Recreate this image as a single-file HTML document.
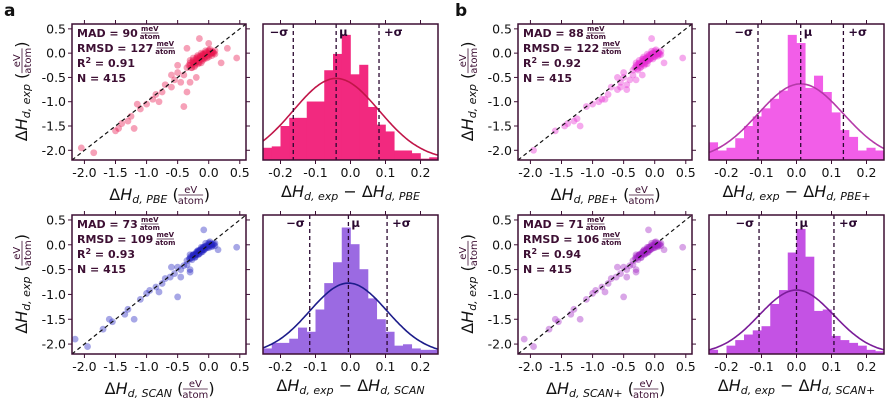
<!DOCTYPE html>
<html><head><meta charset="utf-8"><style>
body{margin:0;background:#fff;}
svg{display:block;font-family:"DejaVu Sans","Liberation Sans",sans-serif;}
</style></head><body>
<svg id="fig" width="896" height="400" viewBox="0 0 896 400" xmlns="http://www.w3.org/2000/svg">
<text x="4" y="16" font-size="17" font-weight="bold" fill="#111">a</text>
<text x="455" y="16" font-size="17" font-weight="bold" fill="#111">b</text>
</svg>
<script>
// ---------- data ----------
const scatterTicks = [-2.0, -1.5, -1.0, -0.5, 0.0, 0.5];
const histTicks = [-0.2, -0.1, 0.0, 0.1, 0.2];
const binStarts = [-0.25,-0.225,-0.2,-0.175,-0.15,-0.125,-0.1,-0.075,-0.05,-0.025,0,0.025,0.05,0.075,0.1,0.125,0.15,0.175,0.2,0.225];

const pbeX = [0,-0.05,-0.1,-0.15,-0.2,-0.25,-0.3,0.05,0.1,-0.1,-0.2,-0.05,0,-0.15,-0.25,0.05,-0.3,-0.35,-0.12,-0.08,0.02,-0.18,0.1,-0.22,-0.02,-0.07,-0.13,-0.17,-0.27,0.07,-0.4,-0.5,-0.45,-0.55,-0.6,-0.7,-0.75,-0.85,-0.9,-1.0,-1.1,-1.25,-1.3,-1.45,-1.5,-1.4,-1.15,-0.3,-0.2,-0.4,-0.35,-0.15,0.3,0.45,0.2,-2.05,-1.85,-1.2,-0.8,-0.6,0,-0.35,-0.5,
 -0.32,-0.28,-0.26,-0.24,-0.21,-0.19,-0.16,-0.14,-0.11,-0.09,-0.06,-0.04,-0.01,0.01,0.03,0.06,0.08,-0.3,-0.23,-0.18,-0.12,-0.06,0.0,0.04,-0.2,-0.15,-0.1,-0.03,-0.25,-0.08];
const pbeY = [0,-0.02,-0.05,-0.1,-0.15,-0.2,-0.25,0,0.05,-0.15,-0.1,0.05,-0.08,-0.2,-0.1,-0.05,-0.15,-0.3,0,-0.1,0.08,-0.05,-0.02,-0.25,-0.04,-0.12,-0.08,-0.22,-0.3,0.02,-0.45,-0.4,-0.6,-0.55,-0.7,-0.65,-0.8,-0.85,-0.95,-1.05,-1.15,-1.3,-1.4,-1.55,-1.6,-1.45,-1.05,-0.6,-0.5,-1.1,-0.8,0.3,0.1,-0.1,-0.2,-1.95,-2.05,-1.55,-1.0,-0.45,0.2,0.1,-0.25,
 -0.25,-0.3,-0.18,-0.22,-0.2,-0.12,-0.18,-0.06,-0.12,-0.02,-0.08,0.02,-0.05,0.04,-0.02,0.03,0.0,-0.2,-0.28,-0.08,-0.2,0.0,0.06,0.0,-0.18,-0.14,-0.02,-0.1,-0.15,-0.05];
const scanX = [0,-0.05,-0.1,-0.15,-0.2,-0.25,-0.3,0.05,0.1,-0.1,-0.2,-0.05,0,-0.15,-0.25,0.05,-0.3,-0.35,-0.12,-0.08,0.02,-0.18,0.1,-0.22,-0.02,-0.07,-0.13,-0.17,-0.27,0.07,-0.4,-0.5,-0.45,-0.55,-0.62,-0.7,-0.75,-0.85,-0.95,-1.0,-1.1,-1.3,-1.35,-1.6,-1.55,-1.7,-0.3,-0.5,-0.45,-0.3,-0.08,0.45,0.15,-2.15,-1.95,-1.2,-0.8,-0.6,-0.35,
 -0.31,-0.27,-0.25,-0.23,-0.2,-0.18,-0.16,-0.13,-0.11,-0.09,-0.06,-0.04,-0.01,0.01,0.03,0.05,0.08,-0.29,-0.22,-0.17,-0.12,-0.06,0.0,0.04,-0.2,-0.15,-0.1,-0.03,-0.24,-0.08];
const scanY = [0,-0.04,-0.1,-0.12,-0.18,-0.22,-0.28,-0.02,0.03,-0.14,-0.15,0.03,-0.06,-0.18,-0.2,-0.04,-0.2,-0.32,-0.05,-0.1,0.06,-0.12,-0.02,-0.25,-0.03,-0.1,-0.1,-0.2,-0.3,0.0,-0.42,-0.45,-0.5,-0.58,-0.65,-0.68,-0.78,-0.85,-0.92,-0.98,-1.1,-1.3,-1.4,-1.5,-1.55,-1.7,-0.5,-1.05,-0.65,-0.55,0.3,-0.05,-0.1,-1.9,-2.05,-1.5,-0.95,-0.45,-0.4,
 -0.28,-0.26,-0.2,-0.22,-0.18,-0.15,-0.18,-0.1,-0.12,-0.06,-0.08,-0.02,-0.04,0.02,-0.01,0.02,0.02,-0.24,-0.25,-0.12,-0.15,-0.03,0.04,0.01,-0.2,-0.12,-0.06,-0.06,-0.2,-0.05];
const pbepX = [0,-0.05,-0.1,-0.15,-0.2,-0.25,-0.3,0.05,0.1,-0.1,-0.2,-0.05,0,-0.15,-0.25,0.05,-0.3,-0.35,-0.12,-0.08,0.02,-0.18,0.1,-0.22,-0.02,-0.07,-0.13,-0.17,-0.27,0.07,-0.4,-0.5,-0.45,-0.55,-0.6,-0.7,-0.75,-0.85,-0.9,-1.0,-1.1,-1.25,-1.3,-1.45,-1.6,-1.4,-0.3,-0.2,-0.45,-0.55,-0.05,0.45,0.15,-1.95,-1.2,-0.8,-0.6,-0.35,-0.5,
 -0.32,-0.28,-0.26,-0.24,-0.21,-0.19,-0.16,-0.14,-0.11,-0.09,-0.06,-0.04,-0.01,0.01,0.03,0.06,0.08,-0.3,-0.23,-0.18,-0.12,-0.06,0.0,0.04,-0.2,-0.15,-0.1,-0.03,-0.25,-0.08];
const pbepY = [0,-0.02,-0.08,-0.12,-0.18,-0.22,-0.28,-0.02,0.04,-0.15,-0.12,0.04,-0.08,-0.22,-0.15,-0.06,-0.2,-0.35,-0.02,-0.12,0.07,-0.08,-0.03,-0.28,-0.05,-0.12,-0.1,-0.25,-0.35,0.0,-0.55,-0.5,-0.65,-0.6,-0.75,-0.7,-0.85,-0.95,-1.0,-1.05,-1.1,-1.35,-1.4,-1.5,-1.6,-1.45,-0.55,-0.45,-0.75,-0.7,0.3,-0.1,-0.2,-2.0,-1.5,-0.95,-0.5,-0.45,-0.4,
 -0.3,-0.32,-0.22,-0.26,-0.22,-0.16,-0.2,-0.1,-0.15,-0.05,-0.1,0.0,-0.07,0.02,-0.04,0.02,-0.02,-0.25,-0.3,-0.12,-0.22,-0.02,0.05,-0.02,-0.22,-0.17,-0.05,-0.12,-0.2,-0.08];
const scanpX = [0,-0.05,-0.1,-0.15,-0.2,-0.25,-0.3,0.05,0.1,-0.1,-0.2,-0.05,0,-0.15,-0.25,0.05,-0.3,-0.35,-0.12,-0.08,0.02,-0.18,0.1,-0.22,-0.02,-0.07,-0.13,-0.17,-0.27,0.07,-0.4,-0.5,-0.45,-0.55,-0.62,-0.7,-0.75,-0.85,-0.95,-1.0,-1.1,-1.3,-1.35,-1.6,-1.55,-1.7,-0.3,-0.5,-0.45,-0.3,-0.1,0.45,0.15,-2.1,-1.95,-1.2,-0.8,-0.6,-0.35,
 -0.31,-0.27,-0.25,-0.23,-0.2,-0.18,-0.16,-0.13,-0.11,-0.09,-0.06,-0.04,-0.01,0.01,0.03,0.05,0.08,-0.29,-0.22,-0.17,-0.12,-0.06,0.0,0.04,-0.2,-0.15,-0.1,-0.03,-0.24,-0.08];
const scanpY = [0,-0.04,-0.1,-0.12,-0.18,-0.22,-0.28,-0.02,0.03,-0.14,-0.15,0.03,-0.06,-0.18,-0.2,-0.04,-0.2,-0.32,-0.05,-0.1,0.06,-0.12,-0.02,-0.25,-0.03,-0.1,-0.1,-0.2,-0.3,0.0,-0.42,-0.45,-0.5,-0.58,-0.65,-0.68,-0.78,-0.85,-0.92,-0.98,-1.1,-1.3,-1.4,-1.5,-1.55,-1.7,-0.5,-1.05,-0.65,-0.55,0.3,-0.05,-0.1,-1.9,-2.05,-1.5,-0.95,-0.45,-0.4,
 -0.27,-0.25,-0.21,-0.2,-0.19,-0.14,-0.17,-0.09,-0.13,-0.05,-0.09,-0.01,-0.05,0.03,-0.02,0.03,0.01,-0.23,-0.26,-0.1,-0.16,-0.02,0.05,0.0,-0.19,-0.13,-0.05,-0.07,-0.19,-0.06];

const histPbe = [.09,.10,.25,.31,.31,.43,.43,.66,.78,.92,.63,.70,.39,.26,.21,.07,.07,.05,.01,.02];
const histScan = [.04,.08,.08,.11,.19,.16,.32,.51,.66,.91,.79,.61,.40,.25,.16,.06,.07,.04,.03,.03];
const histPbep = [.13,.07,.09,.16,.25,.32,.38,.45,.51,.92,.86,.53,.62,.50,.35,.22,.17,.07,.09,.07];
const histScanp = [.03,0,.06,.10,.14,.17,.20,.36,.46,.73,.90,.70,.31,.32,.13,.10,.08,.06,.03,.02];
// gaussian: [mu, sigma, peak]
const gaussPbe = [-0.041, 0.1225, 0.60];
const gaussScan = [-0.006, 0.1105, 0.51];
const gaussPbep = [0.012, 0.122, 0.56];
const gaussScanp = [0.0, 0.107, 0.46];
const statsPbe = ["90","127","0.91","415"];
const statsScan = ["73","109","0.93","415"];
const statsPbep = ["88","122","0.92","415"];
const statsScanp = ["71","106","0.94","415"];

// ---------- drawing ----------
const svg = document.getElementById('fig');
const NS = 'http://www.w3.org/2000/svg';
const AX = '#3d0f33';
function mk(tag, attrs, parent){
  const e = document.createElementNS(NS, tag);
  for (const k in attrs) e.setAttribute(k, attrs[k]);
  (parent||svg).appendChild(e);
  return e;
}
function frac(g, x, y, num, den, fs){
  const t1 = mk('text',{x:x,y:y-2,'font-size':fs,'text-anchor':'middle',fill:AX},g); t1.textContent=num;
  const t2 = mk('text',{x:x,y:y+fs-1,'font-size':fs,'text-anchor':'middle',fill:AX},g); t2.textContent=den;
  const w = den.length*fs*0.62;
  mk('line',{x1:x-w/2,x2:x+w/2,y1:y,y2:y,stroke:AX,'stroke-width':0.8},g);
  return w;
}
function fmt(v){ return (v<0?'-':'')+Math.abs(v).toFixed(1); }
function wid(t){ try { return t.getComputedTextLength(); } catch(e){ return 40; } }

function scatter(L, T, H, xs, ys, color, stats, sub, name){
  const W = 174, g = mk('g',{});
  
  
  const sx = v => L + (v + 2.2) / 2.8 * W;
  const sy = v => T + H - (v + 2.2) / 2.8 * H;
  const cp = mk('clipPath',{id:'c'+name},g); mk('rect',{x:L,y:T,width:W,height:H},cp);
  const pg = mk('g',{'clip-path':'url(#c'+name+')'},g);
  for (let i=0;i<xs.length;i++){
    const c = mk('circle',{cx:sx(xs[i]),cy:sy(ys[i]),r:3.4,fill:color,'fill-opacity':0.4},pg);
    
    
  }
  const d = mk('line',{x1:sx(-2.2),y1:sy(-2.2),x2:sx(0.6),y2:sy(0.6),stroke:'#111','stroke-width':1.2,'stroke-dasharray':'4,3'},g);
  
  
  mk('rect',{x:L,y:T,width:W,height:H,fill:'none',stroke:AX,'stroke-width':1.5},g);
  scatterTicks.forEach(v=>{
    mk('line',{x1:sx(v),x2:sx(v),y1:T+H,y2:T+H+4,stroke:AX,'stroke-width':1},g);
    mk('line',{x1:sx(v),x2:sx(v),y1:T,y2:T-4,stroke:AX,'stroke-width':1},g);
    mk('line',{x1:L,x2:L-4,y1:sy(v),y2:sy(v),stroke:AX,'stroke-width':1},g);
    mk('line',{x1:L+W,x2:L+W+4,y1:sy(v),y2:sy(v),stroke:AX,'stroke-width':1},g);
    const tx = mk('text',{x:sx(v),y:T+H+17,'font-size':12.5,'text-anchor':'middle',fill:'#111'},g);
    tx.textContent = fmt(v);
    
    
    const ty = mk('text',{x:L-6,y:sy(v)+4.5,'font-size':12.5,'text-anchor':'end',fill:'#111'},g);
    ty.textContent = fmt(v);
    
    
  });
  // stats
  const st = mk('g',{'font-size':11,'font-weight':'bold',fill:AX},g);
  
  
  let t = mk('text',{x:L+5,y:T+13},st); t.textContent='MAD = '+stats[0];
  frac(st, L+5+wid(t)+12, T+9, 'meV','atom',7);
  t = mk('text',{x:L+5,y:T+28},st); t.textContent='RMSD = '+stats[1];
  frac(st, L+5+wid(t)+12, T+24, 'meV','atom',7);
  t = mk('text',{x:L+5,y:T+43},st); t.innerHTML='R<tspan dy="-4" font-size="8">2</tspan><tspan dy="4"> = '+stats[2]+'</tspan>';
  t = mk('text',{x:L+5,y:T+58},st); t.textContent='N = '+stats[3];
  // x label
  const xl = mk('g',{},g);
  
  
  const cx = L + W/2, ly = T+H+40;
  const lt = mk('text',{x:0,y:ly,'font-size':16,fill:'#111'},xl);
  lt.innerHTML = 'Δ<tspan font-style="italic">H</tspan><tspan font-style="italic" font-size="11" dy="3">d, '+sub+'</tspan><tspan dy="-3"> (</tspan>';
  const w1 = wid(lt), total = w1 + 24 + 6;
  const x0 = cx - total/2;
  lt.setAttribute('x', x0);
  frac(xl, x0 + w1 + 12, ly-5, 'eV','atom',10);
  const rp = mk('text',{x:x0+w1+25,y:ly,'font-size':16,fill:'#111'},xl); rp.textContent=')';
  // y label
  const yl = mk('g',{transform:'translate('+(L-45)+','+(T+H/2)+') rotate(-90)'},g);
  
  
  const yt = mk('text',{x:0,y:0,'font-size':16,fill:'#111'},yl);
  yt.innerHTML = 'Δ<tspan font-style="italic">H</tspan><tspan font-style="italic" font-size="11" dy="3">d, exp</tspan><tspan dy="-3"> (</tspan>';
  const yw = wid(yt), yx0 = -(yw+30)/2;
  yt.setAttribute('x', yx0);
  frac(yl, yx0 + yw + 12, -5, 'eV','atom',10);
  const yr = mk('text',{x:yx0+yw+25,y:0,'font-size':16,fill:'#111'},yl); yr.textContent=')';
}

function hist(L, T, H, hs, gauss, fill, line, sub, name){
  const W = 175, g = mk('g',{});
  
  
  const sx = v => L + (v + 0.25) / 0.5 * W;
  const sy = v => T + H - v * H;
  for (let i=0;i<hs.length;i++){
    const r = mk('rect',{x:sx(binStarts[i]),y:sy(hs[i]),width:sx(binStarts[i]+0.025)-sx(binStarts[i])+0.3,height:hs[i]*H,fill:fill},g);
    
    
  }
  const [mu, sg, pk] = gauss;
  let d = '';
  for (let k=0;k<=100;k++){
    const v = -0.25 + k*0.005;
    const y = pk*Math.exp(-0.5*((v-mu)/sg)**2);
    d += (k?'L':'M') + sx(v).toFixed(1) + ',' + sy(y).toFixed(1);
  }
  const p = mk('path',{d:d,fill:'none',stroke:line,'stroke-width':1.6},g);
  
  
  [[mu-sg,'−σ',-5,'end'],[mu,'μ',3,'start'],[mu+sg,'+σ',5,'start']].forEach(([v,lab,dx,anc])=>{
    const l = mk('line',{x1:sx(v),x2:sx(v),y1:T,y2:T+H,stroke:'#2a0830','stroke-width':1.3,'stroke-dasharray':'4,3'},g);
    
    
    const tt = mk('text',{x:sx(v)+dx,y:T+12,'font-size':11.5,'font-weight':'bold','text-anchor':anc,fill:'#2a0830'},g);
    tt.textContent = lab;
  });
  mk('rect',{x:L,y:T,width:W,height:H,fill:'none',stroke:AX,'stroke-width':1.5},g);
  histTicks.forEach(v=>{
    mk('line',{x1:sx(v),x2:sx(v),y1:T+H,y2:T+H+4,stroke:AX,'stroke-width':1},g);
    mk('line',{x1:sx(v),x2:sx(v),y1:T,y2:T-4,stroke:AX,'stroke-width':1},g);
    const tx = mk('text',{x:sx(v),y:T+H+17,'font-size':12.5,'text-anchor':'middle',fill:'#111'},g);
    tx.textContent = fmt(v);
    
    
  });
  const xl = mk('text',{x:L+W/2,y:T+H+37,'font-size':16,'text-anchor':'middle',fill:'#111'},g);
  xl.innerHTML = 'Δ<tspan font-style="italic">H</tspan><tspan font-style="italic" font-size="11" dy="3">d, exp</tspan><tspan dy="-3"> − Δ</tspan><tspan font-style="italic">H</tspan><tspan font-style="italic" font-size="11" dy="3">d, '+sub+'</tspan>';
  
  
}

scatter(72, 24, 136, pbeX, pbeY, '#e8144e', statsPbe, 'PBE', 'scatter-pbe');
hist(263, 24, 136, histPbe, gaussPbe, '#f2297f', '#c01548', 'PBE', 'hist-pbe');
scatter(72, 215, 139, scanX, scanY, '#2222c0', statsScan, 'SCAN', 'scatter-scan');
hist(263, 215, 139, histScan, gaussScan, '#9b6ae2', '#1c1c8a', 'SCAN', 'hist-scan');
scatter(518, 24, 136, pbepX, pbepY, '#e62bd2', statsPbep, 'PBE+', 'scatter-pbe-plus');
hist(709, 24, 136, histPbep, gaussPbep, '#f25ee8', '#b43aa8', 'PBE+', 'hist-pbe-plus');
scatter(518, 215, 139, scanpX, scanpY, '#a020c4', statsScanp, 'SCAN+', 'scatter-scan-plus');
hist(709, 215, 139, histScanp, gaussScanp, '#c452e4', '#7a1c98', 'SCAN+', 'hist-scan-plus');
</script>
</body></html>
